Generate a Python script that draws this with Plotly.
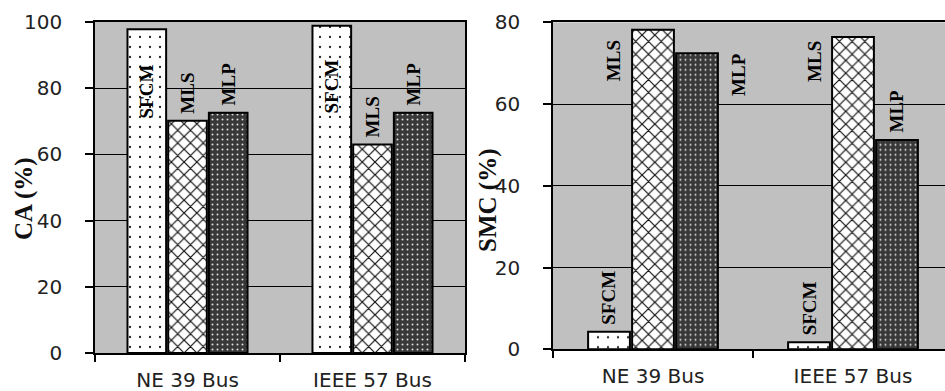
import plotly.graph_objects as go

# ---------------- data ----------------
categories = ["NE 39 Bus", "IEEE 57 Bus"]
methods = ["SFCM", "MLS", "MLP"]

ca_sfcm = [97.8, 98.9]
ca_mls = [70.2, 63.0]
ca_mlp = [72.6, 72.6]

smc_sfcm = [4.3, 1.7]
smc_mls = [78.2, 76.4]
smc_mlp = [72.4, 51.2]

ca_ticks = [0, 20, 40, 60, 80, 100]
smc_ticks = [0, 20, 40, 60, 80]

# ---------------- styles ----------------
GRAY = "#c0c0c0"
patterns = {
    "SFCM": dict(shape=".", fgcolor="#222222", bgcolor="white", size=10, solidity=0.04, fillmode="replace"),
    "MLS": dict(shape="x", fgcolor="#111111", bgcolor="white", size=9, solidity=0.25, fillmode="replace"),
    "MLP": dict(shape=".", fgcolor="#e0e0e0", bgcolor="#383838", size=5, solidity=0.12, fillmode="replace"),
}
LABEL_FONT = dict(family="Liberation Serif", size=19, color="black", weight="bold")
TICK_FONT = dict(family="DejaVu Sans", size=20, color="#222222")
XTICK_FONT = dict(family="DejaVu Sans", size=20, color="#222222")
TITLE_FONT = dict(family="Liberation Serif", size=25, color="#111111", weight="bold")

SLOT = 0.22  # width of one bar slot in category units
# label placement overrides: (chart, method, category index) -> (slot shift, y bottom in data units or None)
label_place = {
    ("ca", "SFCM", 0): (0.0, 70.5),
    ("ca", "SFCM", 1): (0.0, 72.0),
    ("smc", "MLS", 0): (-0.88, 65.3),
    ("smc", "MLS", 1): (-0.88, 65.1),
    ("smc", "MLP", 0): (0.94, 61.7),
}

fig = go.Figure()

charts = [
    ("ca", "x", "y", [ca_sfcm, ca_mls, ca_mlp]),
    ("smc", "x2", "y2", [smc_sfcm, smc_mls, smc_mlp]),
]

annotations = []
for chart, xa, ya, series in charts:
    for j, (m, vals) in enumerate(zip(methods, series)):
        fig.add_trace(go.Bar(
            x=categories, y=vals, name=m, xaxis=xa, yaxis=ya,
            marker=dict(color="white", pattern=patterns[m],
                        line=dict(color="black", width=2)),
            showlegend=False, hoverinfo="skip",
        ))
        for i, v in enumerate(vals):
            shift, ybot = label_place.get((chart, m, i), (0.0, None))
            annotations.append(dict(
                xref=xa, yref=ya,
                x=i + (j - 1) * SLOT + shift * SLOT,
                y=v if ybot is None else ybot,
                yshift=6 if ybot is None else 0,
                text=m, textangle=-90, showarrow=False,
                xanchor="center", yanchor="bottom",
                font=LABEL_FONT, borderpad=0,
            ))

# y-axis titles
annotations.append(dict(xref="paper", yref="paper", x=24 / 945, y=1 - (199 - 22) / 331,
                        text="CA (%)", textangle=-90, showarrow=False,
                        xanchor="center", yanchor="middle", font=TITLE_FONT))
annotations.append(dict(xref="paper", yref="paper", x=488 / 945, y=1 - (201 - 22) / 331,
                        text="SMC (%)", textangle=-90, showarrow=False,
                        xanchor="center", yanchor="middle", font=TITLE_FONT))

xcommon = dict(type="category", tickson="boundaries", ticks="outside", ticklen=7,
               tickcolor="black", tickwidth=1.5, showline=True, linecolor="black",
               linewidth=1.5, mirror=True, showgrid=False, tickfont=XTICK_FONT,
               ticklabelstandoff=8, automargin=False)
ycommon = dict(ticks="outside", ticklen=8, tickcolor="black", tickwidth=1.5,
               showline=True, linecolor="black", linewidth=1.5,
               showgrid=True, gridcolor="black", gridwidth=1, zeroline=False,
               tickfont=TICK_FONT, automargin=False, ticklabelstandoff=19)

fig.update_layout(
    width=945, height=391,
    margin=dict(l=0, r=0, t=22, b=38),
    paper_bgcolor="white", plot_bgcolor=GRAY,
    barmode="group", bargap=0.34, bargroupgap=0.05,
    xaxis=dict(domain=[95 / 945, 465 / 945], anchor="y", range=[-0.5, 1.5], **xcommon),
    yaxis=dict(domain=[0, 1], anchor="x", range=[0, 100], tickvals=ca_ticks,
               mirror=True, **ycommon),
    xaxis2=dict(domain=[553 / 945, 1.0], anchor="y2", range=[-0.5, 1.46], **xcommon),
    yaxis2=dict(domain=[(353 - 349.3) / 331, 1 - 0.3 / 331], anchor="x2", range=[0, 80],
                tickvals=smc_ticks, mirror=False, **ycommon),
    annotations=annotations,
)

fig.write_html("out.html", config={"displayModeBar": False},
               post_script="document.body.style.margin='0';")
